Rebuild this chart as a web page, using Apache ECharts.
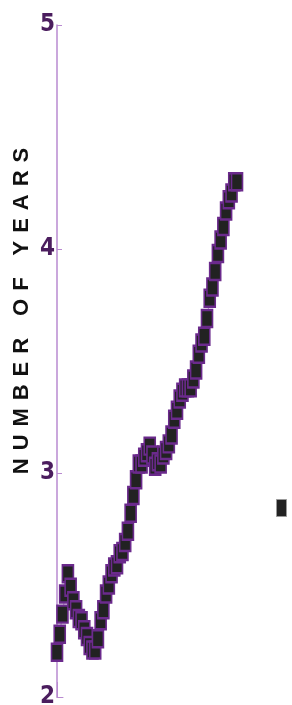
<!DOCTYPE html>
<html>
<head>
<meta charset="utf-8">
<script src="https://cdn.jsdelivr.net/npm/echarts@6/dist/echarts.min.js"></script>
<style>
  html, body { margin: 0; padding: 0; background: #fff; }
  #chart { width: 292px; height: 705px; }
</style>
</head>
<body>
<div id="chart"></div>
<script>
// 每个点的序号（横轴不显示刻度文字）
const pointIndex = []
for (let i = 1; i <= 67; i++) pointIndex.push(String(i))

// 年数
const yearValues = [
  2.20, 2.28, 2.37, 2.46, 2.55, 2.49, 2.43, 2.39, 2.35, 2.34,
  2.30, 2.27, 2.23, 2.21, 2.21, 2.26, 2.34, 2.39, 2.46, 2.50,
  2.55, 2.58, 2.59, 2.64, 2.65, 2.69, 2.74, 2.82, 2.90, 2.97,
  3.04, 3.04, 3.07, 3.09, 3.12, 3.08, 3.03, 3.05, 3.04, 3.08,
  3.10, 3.13, 3.17, 3.24, 3.28, 3.33, 3.36, 3.38, 3.38, 3.38,
  3.42, 3.46, 3.53, 3.58, 3.61, 3.69, 3.78, 3.83, 3.90, 3.98,
  4.04, 4.10, 4.17, 4.22, 4.25, 4.30, 4.30
]

// 纵轴刻度
const yTicks = [2, 3, 4, 5]

// 左下角的小刻度
const cornerTicks = ['', '', '']

const axisColor = '#b98ad0'
const labelColor = '#4b1d5e'

// 轴名字：字母之间加空格
const gap = ' \u200A'
const wordGap = '\u2002\u2002'
const axisName = ['NUMBER', 'OF', 'YEARS']
  .map((w) => w.split('').join(gap))
  .join(wordGap)

const chart = echarts.init(document.getElementById('chart'))

const option = {
  animation: false,
  legend: {
    left: 271,
    top: 494,
    itemWidth: 10,
    itemHeight: 17,
    icon: 'rect',
    data: ['years'],
    itemStyle: { color: '#222', borderColor: '#999', borderWidth: 1 },
    textStyle: { color: 'transparent', fontSize: 1 },
  },
  grid: [
    { left: 57, right: 55, top: 25, bottom: 8, outerBoundsMode: 'none' },
    { left: 57, width: 6, bottom: 8, height: 20, outerBoundsMode: 'none' },
  ],
  xAxis: [
    {
      type: 'category',
      data: pointIndex,
      boundaryGap: false,
      axisLine: { show: false },
      axisTick: { show: false },
      axisLabel: { show: false },
      splitLine: { show: false },
    },
    {
      type: 'category',
      gridIndex: 1,
      data: cornerTicks,
      boundaryGap: false,
      axisLine: { show: true, lineStyle: { color: axisColor, width: 1 } },
      axisTick: { show: true, inside: true, length: 15, lineStyle: { color: axisColor, width: 1 } },
      axisLabel: { show: false },
    },
  ],
  yAxis: [
    {
      type: 'value',
      min: yTicks[0],
      max: yTicks[yTicks.length - 1],
      interval: 1,
      name: axisName,
      nameLocation: 'middle',
      nameGap: 24,
      nameMoveOverlap: false,
      nameRotate: 90,
      nameTextStyle: {
        fontFamily: 'Liberation Sans',
        fontWeight: 'bold',
        fontSize: 22,
        color: '#111',
        padding: [0, 0, 0, 100],
      },
      axisLine: { show: true, lineStyle: { color: axisColor, width: 1.5 } },
      axisTick: { show: true, inside: true, length: 5, lineStyle: { color: axisColor, width: 1 } },
      axisLabel: {
        margin: 2,
        fontFamily: 'DejaVu Sans Condensed',
        fontWeight: 'bold',
        fontSize: 24,
        color: labelColor,
      },
      splitLine: { show: false },
    },
    {
      type: 'value',
      gridIndex: 1,
      show: false,
    },
  ],
  series: [
    {
      name: 'years',
      type: 'line',
      data: yearValues,
      symbol: 'rect',
      symbolSize: [11, 17],
      showAllSymbol: true,
      lineStyle: { color: axisColor, width: 1 },
      itemStyle: { color: '#222', borderColor: '#6b2a8c', borderWidth: 2 },
    },
  ],
}

chart.setOption(option)
</script>
</body>
</html>
